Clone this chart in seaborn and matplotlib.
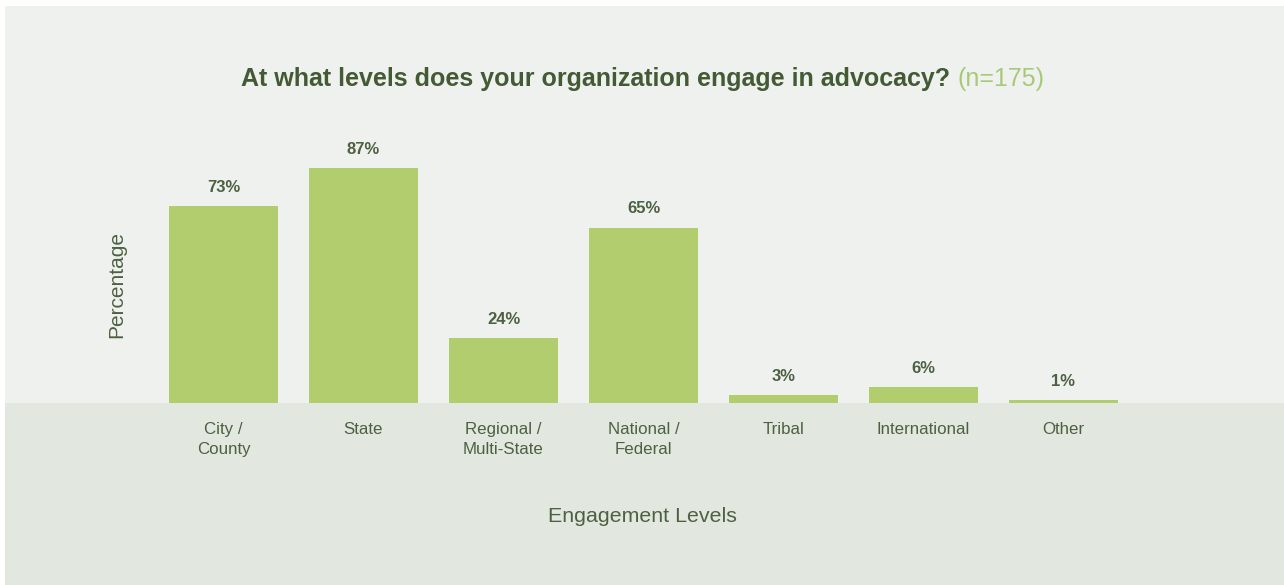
import matplotlib
matplotlib.use('Agg')
import matplotlib.pyplot as plt
import seaborn as sns
import pandas as pd
from matplotlib.patches import Rectangle

# data
levels = ["City /\nCounty", "State", "Regional /\nMulti-State", "National /\nFederal",
          "Tribal", "International", "Other"]
percent = [73, 87, 24, 65, 3, 6, 1]
title_main = "At what levels does your organization engage in advocacy?"
title_n = "(n=175)"

BG_TOP = "#eff1ee"
BG_BOTTOM = "#e2e7e0"
BAR = "#b2cd6d"
DARK = "#435a35"
TEXT = "#4d6142"
LIGHT = "#a9c97a"

sns.set_theme(style="white")
plt.rcParams['font.family'] = ['Liberation Sans', 'DejaVu Sans']

df = pd.DataFrame({"level": levels, "pct": percent})

W, H = 1284, 585
fig = plt.figure(figsize=(W / 100, H / 100), dpi=100)
fig.patch.set_facecolor("white")

# background panels (white frame at top/left)
fig.add_artist(Rectangle((5 / W, 0), 1 - 5 / W, (H - 6) / H, transform=fig.transFigure,
                         facecolor=BG_TOP, edgecolor="none", zorder=0))
fig.add_artist(Rectangle((5 / W, 0), 1 - 5 / W, (H - 403) / H, transform=fig.transFigure,
                         facecolor=BG_BOTTOM, edgecolor="none", zorder=0))

ax = fig.add_axes([153.5 / W, (H - 403) / H, 980 / W, 270 / H])
ax.patch.set_alpha(0)

sns.barplot(data=df, x="level", y="pct", color=BAR, width=0.78, saturation=1,
            linewidth=0, ax=ax)
ax.set_xlim(-0.5, 6.5)
ax.set_ylim(0, 100)

for c in ax.containers:
    ax.bar_label(c, labels=[f"{v}%" for v in percent], padding=8,
                 fontsize=12, fontweight="bold", color=TEXT)

for s in ax.spines.values():
    s.set_visible(False)
ax.set_yticks([])
ax.tick_params(axis="x", length=0, pad=13.5, labelsize=12.2, labelcolor=TEXT)
for lab in ax.get_xticklabels():
    lab.set_linespacing(1.4)

ax.set_xlabel("")
ax.set_ylabel("")
fig.text(642 / W, 1 - 517 / H, "Engagement Levels", ha="center", va="center",
         fontsize=15.4, color=TEXT)
fig.text(117 / W, 1 - 285 / H, "Percentage", ha="center", va="center",
         rotation=90, fontsize=15, color=TEXT)

# two-colour title, centred as a whole
t1 = fig.text(0, 1 - 79 / H, title_main + " ", ha="left", va="center",
              fontsize=18, fontweight="bold", color=DARK)
t2 = fig.text(0, 1 - 79 / H, title_n, ha="left", va="center",
              fontsize=18, color=LIGHT)
r = fig.canvas.get_renderer()
w1 = t1.get_window_extent(r).width
w2 = t2.get_window_extent(r).width
x0 = 642.5 - (w1 + w2) / 2
t1.set_x(x0 / W)
t2.set_x((x0 + w1) / W)

fig.savefig("out.png", dpi=100, facecolor=fig.get_facecolor())
